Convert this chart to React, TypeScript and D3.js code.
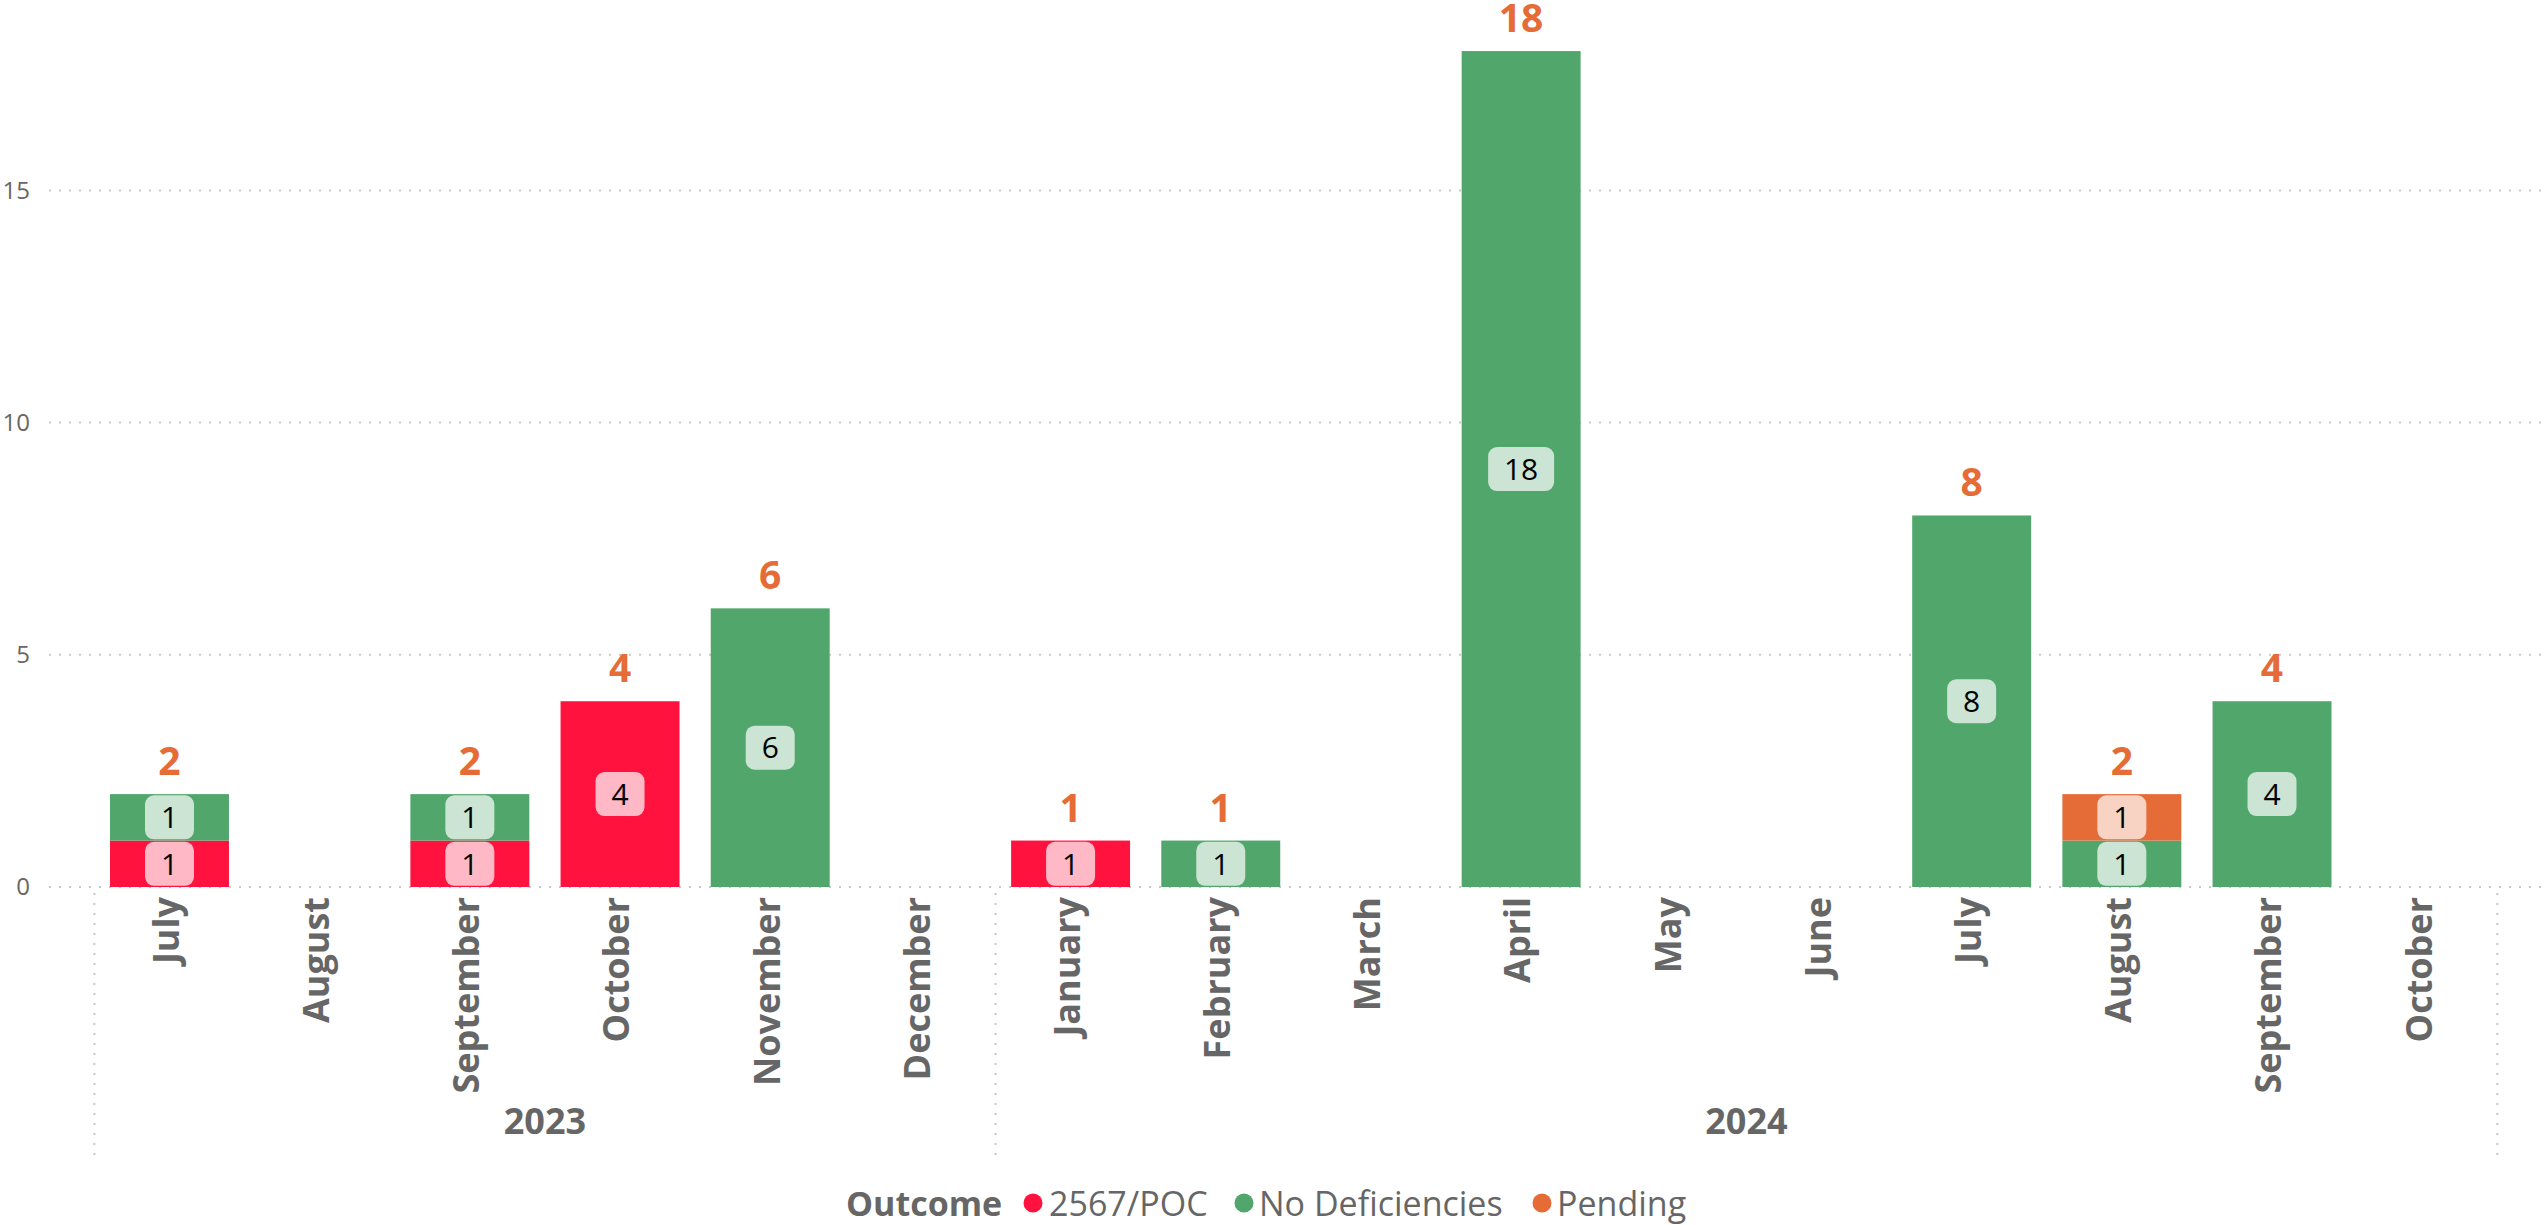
import React, { useEffect } from "react";
import * as d3 from "d3";

const months = ["July", "August", "September", "October", "November", "December", "January", "February", "March", "April", "May", "June", "July", "August", "September", "October"];
const years = ["2023", "2023", "2023", "2023", "2023", "2023", "2024", "2024", "2024", "2024", "2024", "2024", "2024", "2024", "2024", "2024"];
const pocValues = [1, 0, 1, 4, 0, 0, 1, 0, 0, 0, 0, 0, 0, 0, 0, 0];
const noDefValues = [1, 0, 1, 0, 6, 0, 0, 1, 0, 18, 0, 0, 8, 1, 4, 0];
const pendingValues = [0, 0, 0, 0, 0, 0, 0, 0, 0, 0, 0, 0, 0, 1, 0, 0];
const seriesNames = ["2567/POC", "No Deficiencies", "Pending"];
const seriesColors = ["#FF123D", "#50A66B", "#E66C37"];
const yTicks = [0, 5, 10, 15];

const W = 2544;
const H = 1225;
const FONT = "'Open Sans', 'Noto Sans', sans-serif";

export default function App() {
  useEffect(() => {
    document.body.style.margin = "0";
    document.body.style.overflow = "hidden";
  }, []);

  const idx = months.map((_, i) => String(i));
  const x = d3.scaleBand<string>().domain(idx).range([94.4, 2497.3]).paddingInner(0.208).paddingOuter(0.104);
  const y = d3.scaleLinear().domain([0, 19.1]).range([887, 0]);

  const table = months.map((m, i) => ({ key: String(i), s0: pocValues[i], s1: noDefValues[i], s2: pendingValues[i] }));
  const stack = d3.stack<any>().keys(["s0", "s1", "s2"]);
  const layers = stack(table);
  const totals = months.map((_, i) => pocValues[i] + noDefValues[i] + pendingValues[i]);

  // year groups
  const yearGroups: { year: string; start: number; end: number }[] = [];
  years.forEach((yr, i) => {
    const last = yearGroups[yearGroups.length - 1];
    if (last && last.year === yr) last.end = i;
    else yearGroups.push({ year: yr, start: i, end: i });
  });
  const step = x.step();
  const bandStart = (i: number) => (x(String(i)) as number) - x.paddingInner() * step / 2;
  const bandEnd = (i: number) => bandStart(i) + step;

  const dotted = { stroke: "#C8C8C8", strokeWidth: 2, strokeDasharray: "2 8" } as const;

  const legendItems = [
    { dot: 1033, text: 1049 },
    { dot: 1244, text: 1259 },
    { dot: 1542, text: 1557 },
  ];

  return (
    <svg width={W} height={H} style={{ display: "block", background: "#fff" }}>
      {/* gridlines */}
      {yTicks.map((t) => (
        <g key={t}>
          <line x1={49} x2={W} y1={y(t)} y2={y(t)} {...dotted} />
          <text x={30} y={y(t)} dy="0.35em" textAnchor="end" fontFamily={FONT} fontSize={24} fill="#666">
            {t}
          </text>
        </g>
      ))}

      {/* bars */}
      {layers.map((layer, si) => (
        <g key={si}>
          {layer.map((d, i) => {
            const v = d[1] - d[0];
            if (v <= 0) return null;
            const bx = x(String(i)) as number;
            const bw = x.bandwidth();
            const y0 = y(d[0]);
            const y1 = y(d[1]);
            const cy = (y0 + y1) / 2;
            const label = String(v);
            const tw = label.length * 17;
            const pw = tw + 32;
            const ph = 44;
            return (
              <g key={i}>
                <rect x={bx} y={y1} width={bw} height={y0 - y1} fill={seriesColors[si]} />
                <rect x={bx + bw / 2 - pw / 2} y={cy - ph / 2} width={pw} height={ph} rx={9} fill="#fff" fillOpacity={0.7} />
                <text x={bx + bw / 2} y={cy} dy="0.36em" textAnchor="middle" fontFamily={FONT} fontSize={30} fill="#000">
                  {label}
                </text>
              </g>
            );
          })}
        </g>
      ))}

      {/* totals */}
      {totals.map((t, i) =>
        t > 0 ? (
          <text key={i} x={(x(String(i)) as number) + x.bandwidth() / 2} y={y(t) - 19} textAnchor="middle" fontFamily={FONT} fontWeight={700} fontSize={39} fill="#E66C37">
            {t}
          </text>
        ) : null
      )}

      {/* month labels */}
      {months.map((m, i) => {
        const cx = (x(String(i)) as number) + x.bandwidth() / 2;
        return (
          <text key={i} transform={`translate(${cx},${897}) rotate(-90)`} dy="0.26em" textAnchor="end" fontFamily={FONT} fontWeight={700} fontSize={36} fill="#666">
            {m}
          </text>
        );
      })}

      {/* year separators and labels */}
      {yearGroups.map((g, gi) => (
        <g key={gi}>
          <line x1={bandStart(g.start)} x2={bandStart(g.start)} y1={893} y2={1156} {...dotted} />
          {gi === yearGroups.length - 1 && <line x1={bandEnd(g.end)} x2={bandEnd(g.end)} y1={893} y2={1156} {...dotted} />}
          <text x={(bandStart(g.start) + bandEnd(g.end)) / 2} y={1121} dy="0.35em" textAnchor="middle" fontFamily={FONT} fontWeight={700} fontSize={36} fill="#666">
            {g.year}
          </text>
        </g>
      ))}

      {/* legend */}
      <text x={846} y={1216} fontFamily={FONT} fontWeight={700} fontSize={34} fill="#666">
        Outcome
      </text>
      {seriesNames.map((n, i) => (
        <g key={n}>
          <circle cx={legendItems[i].dot} cy={1203} r={9.5} fill={seriesColors[i]} />
          <text x={legendItems[i].text} y={1216} fontFamily={FONT} fontSize={34} fill="#666">
            {n}
          </text>
        </g>
      ))}
    </svg>
  );
}
